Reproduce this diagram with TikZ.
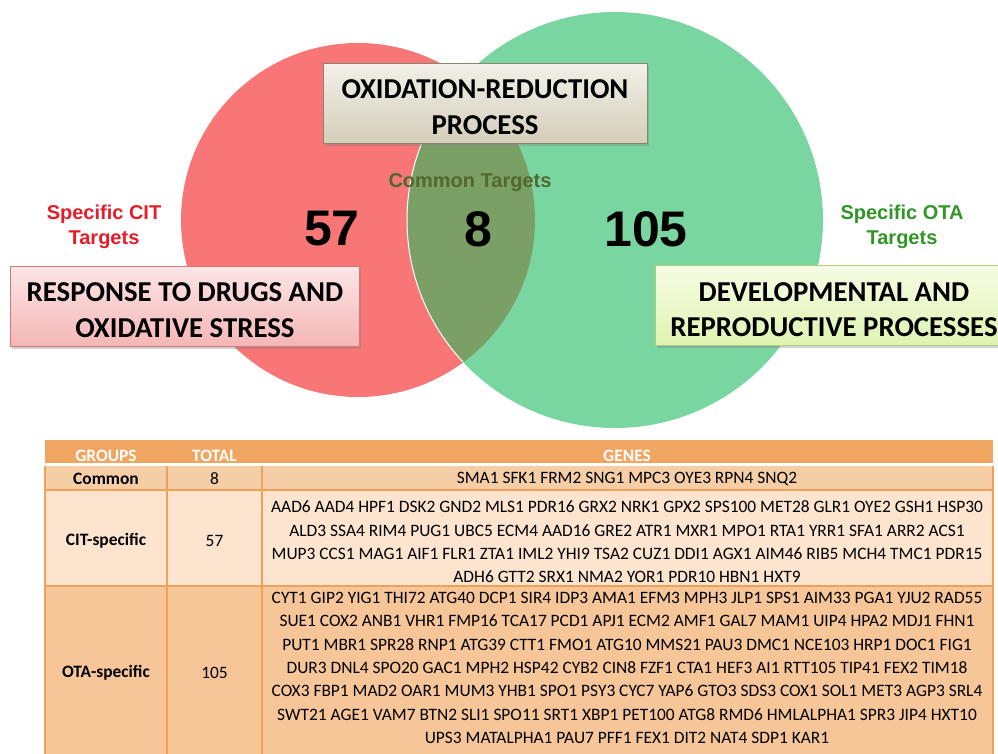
\documentclass[tikz,border=0pt]{standalone}
\usepackage{fontspec}
\setmainfont{Carlito}
\newfontfamily\arialf{Liberation Sans}
\usetikzlibrary{shadows}
\definecolor{cred}{RGB}{248,118,118}
\definecolor{cgreen}{RGB}{122,214,160}
\definecolor{clens}{RGB}{122,160,102}
\definecolor{txtred}{RGB}{232,28,40}
\definecolor{txtgreen}{RGB}{48,150,40}
\definecolor{txtolive}{RGB}{82,104,48}
\definecolor{hdr}{RGB}{240,166,96}
\definecolor{rowA}{RGB}{246,206,166}
\definecolor{rowB}{RGB}{252,228,206}
\definecolor{rowC}{RGB}{247,198,152}
\definecolor{gridc}{RGB}{240,160,88}
\definecolor{oxdraw}{RGB}{140,132,112}
\definecolor{oxtop}{RGB}{242,240,232}
\definecolor{oxbot}{RGB}{212,206,186}
\definecolor{rdraw}{RGB}{210,120,120}
\definecolor{rtop}{RGB}{252,230,230}
\definecolor{rbot}{RGB}{245,182,182}
\definecolor{ddraw}{RGB}{185,205,120}
\definecolor{dtop}{RGB}{246,252,228}
\definecolor{dbot}{RGB}{222,244,178}
\tikzset{
  bigbox/.style={draw=#1, line width=0.8pt, inner sep=0pt,
    drop shadow={opacity=0.35, shadow xshift=2pt, shadow yshift=-2.5pt}},
  boxtxt/.style={align=center, inner sep=0pt, font=\bfseries\fontsize{28.8}{35.5}\selectfont},
  sidelabel/.style={align=center, font=\arialf\bfseries\fontsize{20}{25}\selectfont},
  bignum/.style={font=\arialf\bfseries\fontsize{50}{50}\selectfont},
  hdrtxt/.style={text=white, font=\bfseries\fontsize{17.4}{20}\selectfont},
  celltxt/.style={font=\fontsize{17.4}{23.3}\selectfont, align=center, inner sep=0pt},
  cellbold/.style={font=\bfseries\fontsize{17.4}{20}\selectfont},
  gridline/.style={draw=gridc, line width=1.2pt}
}
\begin{document}
\begin{tikzpicture}[x=1pt,y=-1pt]
\useasboundingbox (0,0) rectangle (998,753);
\clip (0,0) rectangle (998,753);
% Venn circles
\fill[cred] (358,220) circle[radius=177pt];
\fill[cgreen] (615,220) circle[radius=208pt];
\begin{scope}
  \clip (358,220) circle[radius=177pt];
  \fill[clens] (615,220) circle[radius=208pt];
  \draw[white, line width=1pt] (615,220) circle[radius=208pt];
\end{scope}
% boxes
\node[bigbox=oxdraw, minimum width=324pt, minimum height=80pt,
  top color=oxtop, bottom color=oxbot] (oxbox) at (485,103) {};
\node[boxtxt] (oxtxt) at (485,107) {OXIDATION-REDUCTION\\PROCESS};
\node[bigbox=rdraw, minimum width=349pt, minimum height=80pt,
  top color=rtop, bottom color=rbot] (rbox) at (184.5,306) {};
\node[boxtxt] (rtxt) at (185,310) {RESPONSE TO DRUGS AND\\OXIDATIVE STRESS};
\node[bigbox=ddraw, minimum width=360pt, minimum height=80pt,
  top color=dtop, bottom color=dbot] (dbox) at (835,305) {};
\node[boxtxt] (dtxt) at (834,309.5) {DEVELOPMENTAL AND\\REPRODUCTIVE PROCESSES};
% labels
\node[sidelabel, text=txtred] (citlab) at (104,227) {Specific CIT\\Targets};
\node[sidelabel, text=txtgreen] (otalab) at (902,227) {Specific OTA\\Targets};
\node[sidelabel, text=txtolive] (comlab) at (470,183) {Common Targets};
\node[bignum] (n57) at (332,229) {57};
\node[bignum] (n8) at (478,229) {8};
\node[bignum] (n105) at (646,229) {105};
% table
\fill[hdr] (45,440) rectangle (993,463);
\fill[white] (45,463) rectangle (993,465.5);
\fill[rowA] (45,465.5) rectangle (993,490);
\fill[rowB] (45,490) rectangle (993,586);
\fill[rowC] (45,586) rectangle (993,760);
\draw[gridline] (45,490) -- (993,490);
\draw[gridline] (45,586) -- (993,586);
\draw[gridline] (167,465.5) -- (167,760);
\draw[gridline] (262,465.5) -- (262,760);
\draw[gridline] (45,465.5) -- (45,760);
\draw[gridline] (993,465.5) -- (993,760);
\node[hdrtxt] (hg) at (106,456) {GROUPS};
\node[hdrtxt] (ht) at (214.5,456) {TOTAL};
\node[hdrtxt] (hgen) at (627,456) {GENES};
\node[cellbold] (c1) at (106,479) {Common};
\node[celltxt] (c2) at (214.5,479) {8};
\node[celltxt] (c3) at (627,479) {SMA1 SFK1 FRM2 SNG1 MPC3 OYE3 RPN4 SNQ2};
\node[cellbold] (d1) at (106,541) {CIT-specific};
\node[celltxt] (d2) at (214.5,541) {57};
\node[celltxt] (d3) at (627,542) {AAD6 AAD4 HPF1 DSK2 GND2 MLS1 PDR16 GRX2 NRK1 GPX2 SPS100 MET28 GLR1 OYE2 GSH1 HSP30\\
ALD3 SSA4 RIM4 PUG1 UBC5 ECM4 AAD16 GRE2 ATR1 MXR1 MPO1 RTA1 YRR1 SFA1 ARR2 ACS1\\
MUP3 CCS1 MAG1 AIF1 FLR1 ZTA1 IML2 YHI9 TSA2 CUZ1 DDI1 AGX1 AIM46 RIB5 MCH4 TMC1 PDR15\\
ADH6 GTT2 SRX1 NMA2 YOR1 PDR10 HBN1 HXT9};
\node[cellbold] (e1) at (106,673) {OTA-specific};
\node[celltxt] (e2) at (214.5,673) {105};
\node[celltxt] (e3) at (627,668) {CYT1 GIP2 YIG1 THI72 ATG40 DCP1 SIR4 IDP3 AMA1 EFM3 MPH3 JLP1 SPS1 AIM33 PGA1 YJU2 RAD55\\
SUE1 COX2 ANB1 VHR1 FMP16 TCA17 PCD1 APJ1 ECM2 AMF1 GAL7 MAM1 UIP4 HPA2 MDJ1 FHN1\\
PUT1 MBR1 SPR28 RNP1 ATG39 CTT1 FMO1 ATG10 MMS21 PAU3 DMC1 NCE103 HRP1 DOC1 FIG1\\
DUR3 DNL4 SPO20 GAC1 MPH2 HSP42 CYB2 CIN8 FZF1 CTA1 HEF3 AI1 RTT105 TIP41 FEX2 TIM18\\
COX3 FBP1 MAD2 OAR1 MUM3 YHB1 SPO1 PSY3 CYC7 YAP6 GTO3 SDS3 COX1 SOL1 MET3 AGP3 SRL4\\
SWT21 AGE1 VAM7 BTN2 SLI1 SPO11 SRT1 XBP1 PET100 ATG8 RMD6 HMLALPHA1 SPR3 JIP4 HXT10\\
UPS3 MATALPHA1 PAU7 PFF1 FEX1 DIT2 NAT4 SDP1 KAR1};
\end{tikzpicture}
\end{document}
